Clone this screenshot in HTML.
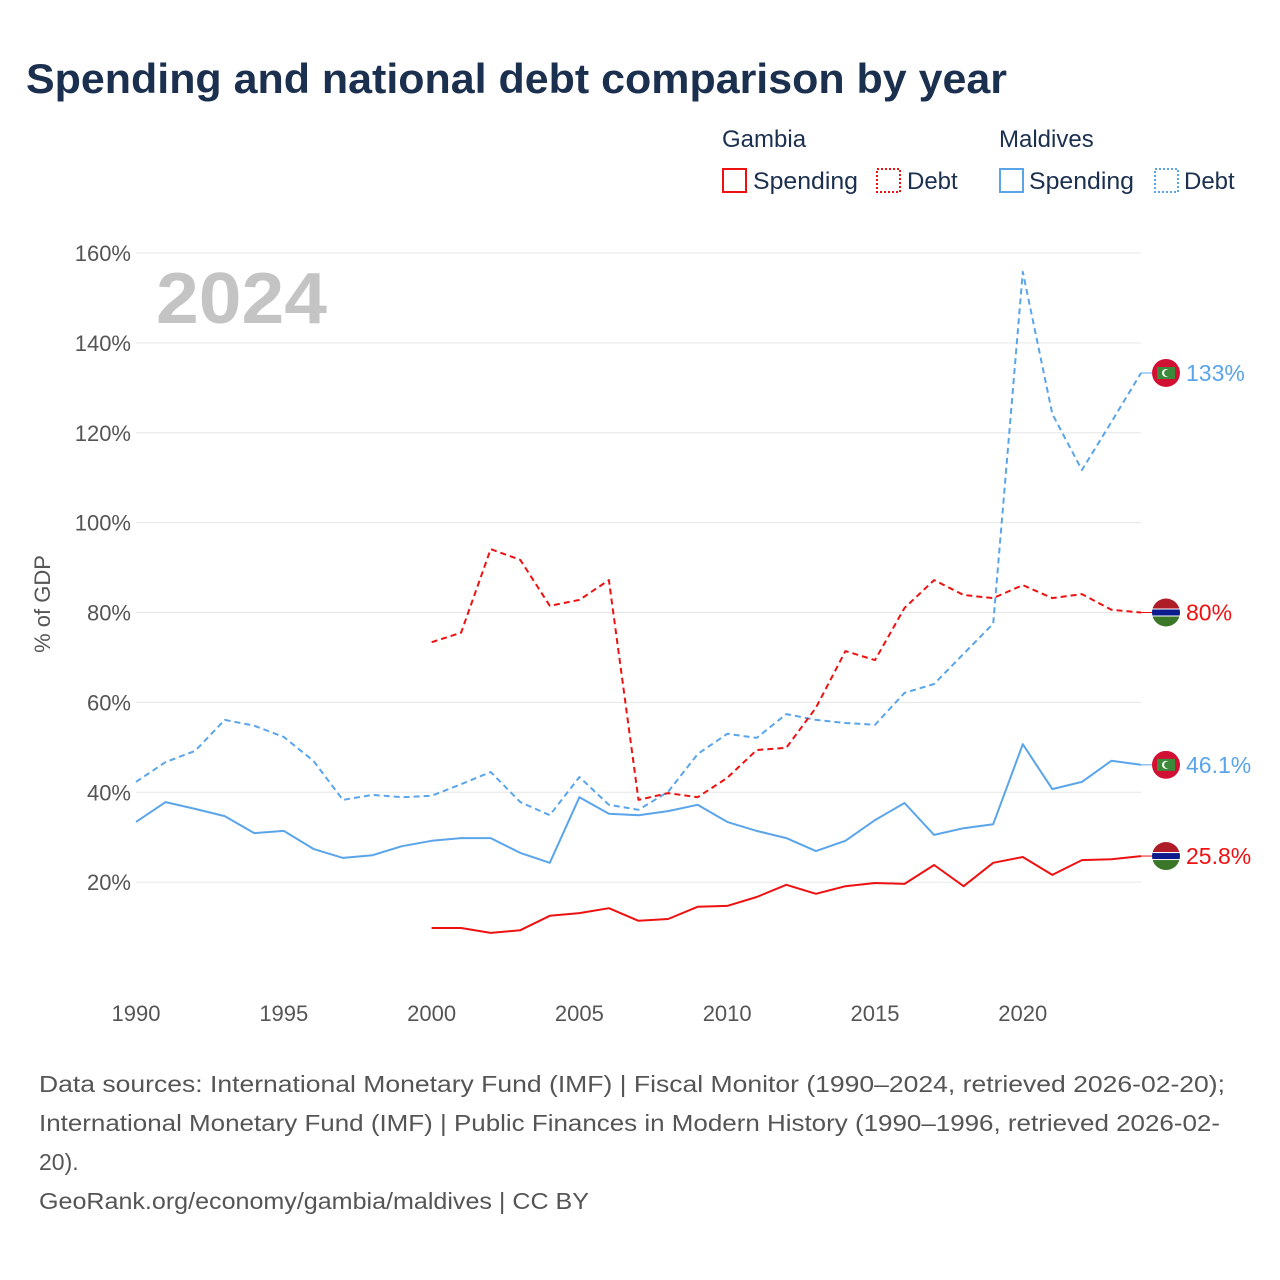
<!DOCTYPE html>
<html><head><meta charset="utf-8"><style>
body{margin:0;background:#fff;font-family:"Liberation Sans",sans-serif;}
#wrap{position:relative;width:1280px;height:1280px;overflow:hidden;}
</style></head><body>
<div id="wrap">
<svg id="chart" width="1280" height="1280" xmlns="http://www.w3.org/2000/svg">
<text x="26" y="93" font-size="42" font-weight="bold" fill="#1b2f4f" textLength="981" lengthAdjust="spacingAndGlyphs">Spending and national debt comparison by year</text>
<g font-size="24" fill="#1b2f4f">
<text x="722" y="147">Gambia</text>
<text x="999" y="147">Maldives</text>
<rect x="723" y="169" width="23" height="23" fill="none" stroke="#ee1111" stroke-width="2"/>
<text x="753" y="189" textLength="105" lengthAdjust="spacingAndGlyphs">Spending</text>
<rect x="877" y="169" width="23" height="23" fill="none" stroke="#ee1111" stroke-width="2" stroke-dasharray="2,2"/>
<text x="907" y="189">Debt</text>
<rect x="1000" y="169" width="23" height="23" fill="none" stroke="#5aa5ea" stroke-width="2"/>
<text x="1029" y="189" textLength="105" lengthAdjust="spacingAndGlyphs">Spending</text>
<rect x="1155" y="169" width="23" height="23" fill="none" stroke="#5aa5ea" stroke-width="2" stroke-dasharray="2,2"/>
<text x="1184" y="189">Debt</text>
</g>
<text x="156" y="323" font-size="72" font-weight="bold" fill="#c4c4c4" textLength="171" lengthAdjust="spacingAndGlyphs">2024</text>
<text transform="translate(50,604) rotate(-90)" text-anchor="middle" font-size="22" fill="#555">% of GDP</text>
<g id="grid"></g><g id="series"></g><g id="ends"></g>
<g font-size="23" fill="#555">
<text x="39" y="1092" textLength="1186" lengthAdjust="spacingAndGlyphs">Data sources: International Monetary Fund (IMF) | Fiscal Monitor (1990–2024, retrieved 2026-02-20);</text>
<text x="39" y="1131" textLength="1181" lengthAdjust="spacingAndGlyphs">International Monetary Fund (IMF) | Public Finances in Modern History (1990–1996, retrieved 2026-02-</text>
<text x="39" y="1170">20).</text>
<text x="39" y="1209" textLength="550" lengthAdjust="spacingAndGlyphs">GeoRank.org/economy/gambia/maldives | CC BY</text>
</g>
</svg>
</div>
<script>
const yTicks=[20,40,60,80,100,120,140,160];
const xTicks=[1990,1995,2000,2005,2010,2015,2020];
const gmYears=[2000,2001,2002,2003,2004,2005,2006,2007,2008,2009,2010,2011,2012,2013,2014,2015,2016,2017,2018,2019,2020,2021,2022,2023,2024];
const gmSpending=[9.8,9.8,8.7,9.3,12.5,13.1,14.2,11.4,11.8,14.5,14.7,16.7,19.4,17.4,19.1,19.8,19.6,23.8,19.1,24.3,25.6,21.6,24.9,25.1,25.8];
const gmDebt=[73.4,75.5,94.1,91.7,81.5,82.8,87.2,38.3,39.8,38.9,43.2,49.4,49.9,58.8,71.4,69.4,81,87.2,83.9,83.2,86.1,83.2,84.1,80.6,80];
const mvYears=[1990,1991,1992,1993,1994,1995,1996,1997,1998,1999,2000,2001,2002,2003,2004,2005,2006,2007,2008,2009,2010,2011,2012,2013,2014,2015,2016,2017,2018,2019,2020,2021,2022,2023,2024];
const mvSpending=[33.4,37.8,36.3,34.7,30.9,31.4,27.4,25.4,26,28,29.2,29.8,29.8,26.5,24.3,38.9,35.2,34.9,35.8,37.2,33.4,31.4,29.8,26.9,29.2,33.8,37.6,30.5,32,32.9,50.7,40.7,42.3,47,46.1];
const mvDebt=[42.3,46.7,49.2,56.1,54.8,52.3,47,38.3,39.4,38.9,39.2,41.8,44.5,37.8,34.9,43.4,37.2,36.1,40.1,48.5,53,52.1,57.4,56.1,55.4,55,62.1,64.1,70.8,77.5,155.8,124.2,111.7,122.4,133.3];
const endLabels=["133%","80%","46.1%","25.8%"];

const NS="http://www.w3.org/2000/svg";
const X=y=>136+(y-1990)*(1141-136)/34;
const Y=v=>972-v*(972-253)/160;
function mk(t,a,p){const e=document.createElementNS(NS,t);for(const k in a)e.setAttribute(k,a[k]);p.appendChild(e);return e;}
const grid=document.getElementById('grid');
yTicks.forEach(v=>{
  const l=mk('line',{x1:136,x2:1141,y1:Y(v),y2:Y(v),stroke:'#e6e6e6','stroke-width':1},grid);
  
  
  const t=mk('text',{x:131,y:Y(v)+8,'text-anchor':'end','font-size':22,fill:'#555'},grid);
  t.textContent=v+'%';
  
  
});
xTicks.forEach(y=>{
  const t=mk('text',{x:X(y),y:1021,'text-anchor':'middle','font-size':22,fill:'#555'},grid);
  t.textContent=y;
  
  
});
const ser=document.getElementById('series');
function line(xs,vs,color,dash,name){
  const p=mk('path',{d:xs.map((x,i)=>(i?'L':'M')+X(x).toFixed(1)+','+Y(vs[i]).toFixed(1)).join(''),fill:'none',stroke:color,'stroke-width':2,'stroke-linejoin':'round'},ser);
  if(dash)p.setAttribute('stroke-dasharray','6,4');
  
  
}
line(mvYears,mvSpending,'#5aa5ea',false,'line-maldives-spending');
line(mvYears,mvDebt,'#5aa5ea',true,'line-maldives-debt');
line(gmYears,gmSpending,'#ee1111',false,'line-gambia-spending');
line(gmYears,gmDebt,'#ee1111',true,'line-gambia-debt');
const ends=document.getElementById('ends');
const lastVals=[mvDebt[mvDebt.length-1],gmDebt[gmDebt.length-1],mvSpending[mvSpending.length-1],gmSpending[gmSpending.length-1]];
const colors=['#5aa5ea','#ee1111','#5aa5ea','#ee1111'];
const kinds=['mv','gm','mv','gm'];
lastVals.forEach((v,i)=>{
  const cy=Y(v),cx=1166;
  const g=mk('g',{},ends);
  
  
  const cp=mk('clipPath',{id:'cf'+i},g);mk('circle',{cx:cx,cy:cy,r:14},cp);
  const f=mk('g',{'clip-path':'url(#cf'+i+')'},g);
  if(kinds[i]==='mv'){
    mk('rect',{x:cx-14,y:cy-14,width:28,height:28,fill:'#d21034'},f);
    mk('rect',{x:cx-9,y:cy-6,width:18,height:12,fill:'#3a8a3a'},f);
    mk('circle',{cx:cx,cy:cy,r:4,fill:'#fff'},f);
    mk('circle',{cx:cx+1.5,cy:cy,r:3.4,fill:'#3a8a3a'},f);
  }else{
    mk('rect',{x:cx-14,y:cy-14,width:28,height:10,fill:'#ae1c28'},f);
    mk('rect',{x:cx-14,y:cy-4,width:28,height:8,fill:'#fff'},f);
    mk('rect',{x:cx-14,y:cy-3,width:28,height:6,fill:'#0c1c8c'},f);
    mk('rect',{x:cx-14,y:cy+4,width:28,height:10,fill:'#3a7728'},f);
  }
  mk('line',{x1:1141,x2:1152,y1:cy,y2:cy,stroke:colors[i],'stroke-width':1},g);
  const t=mk('text',{x:1186,y:cy+8,'font-size':23,fill:colors[i]},ends);
  t.textContent=endLabels[i];
  
  
});
</script>
</body></html>
